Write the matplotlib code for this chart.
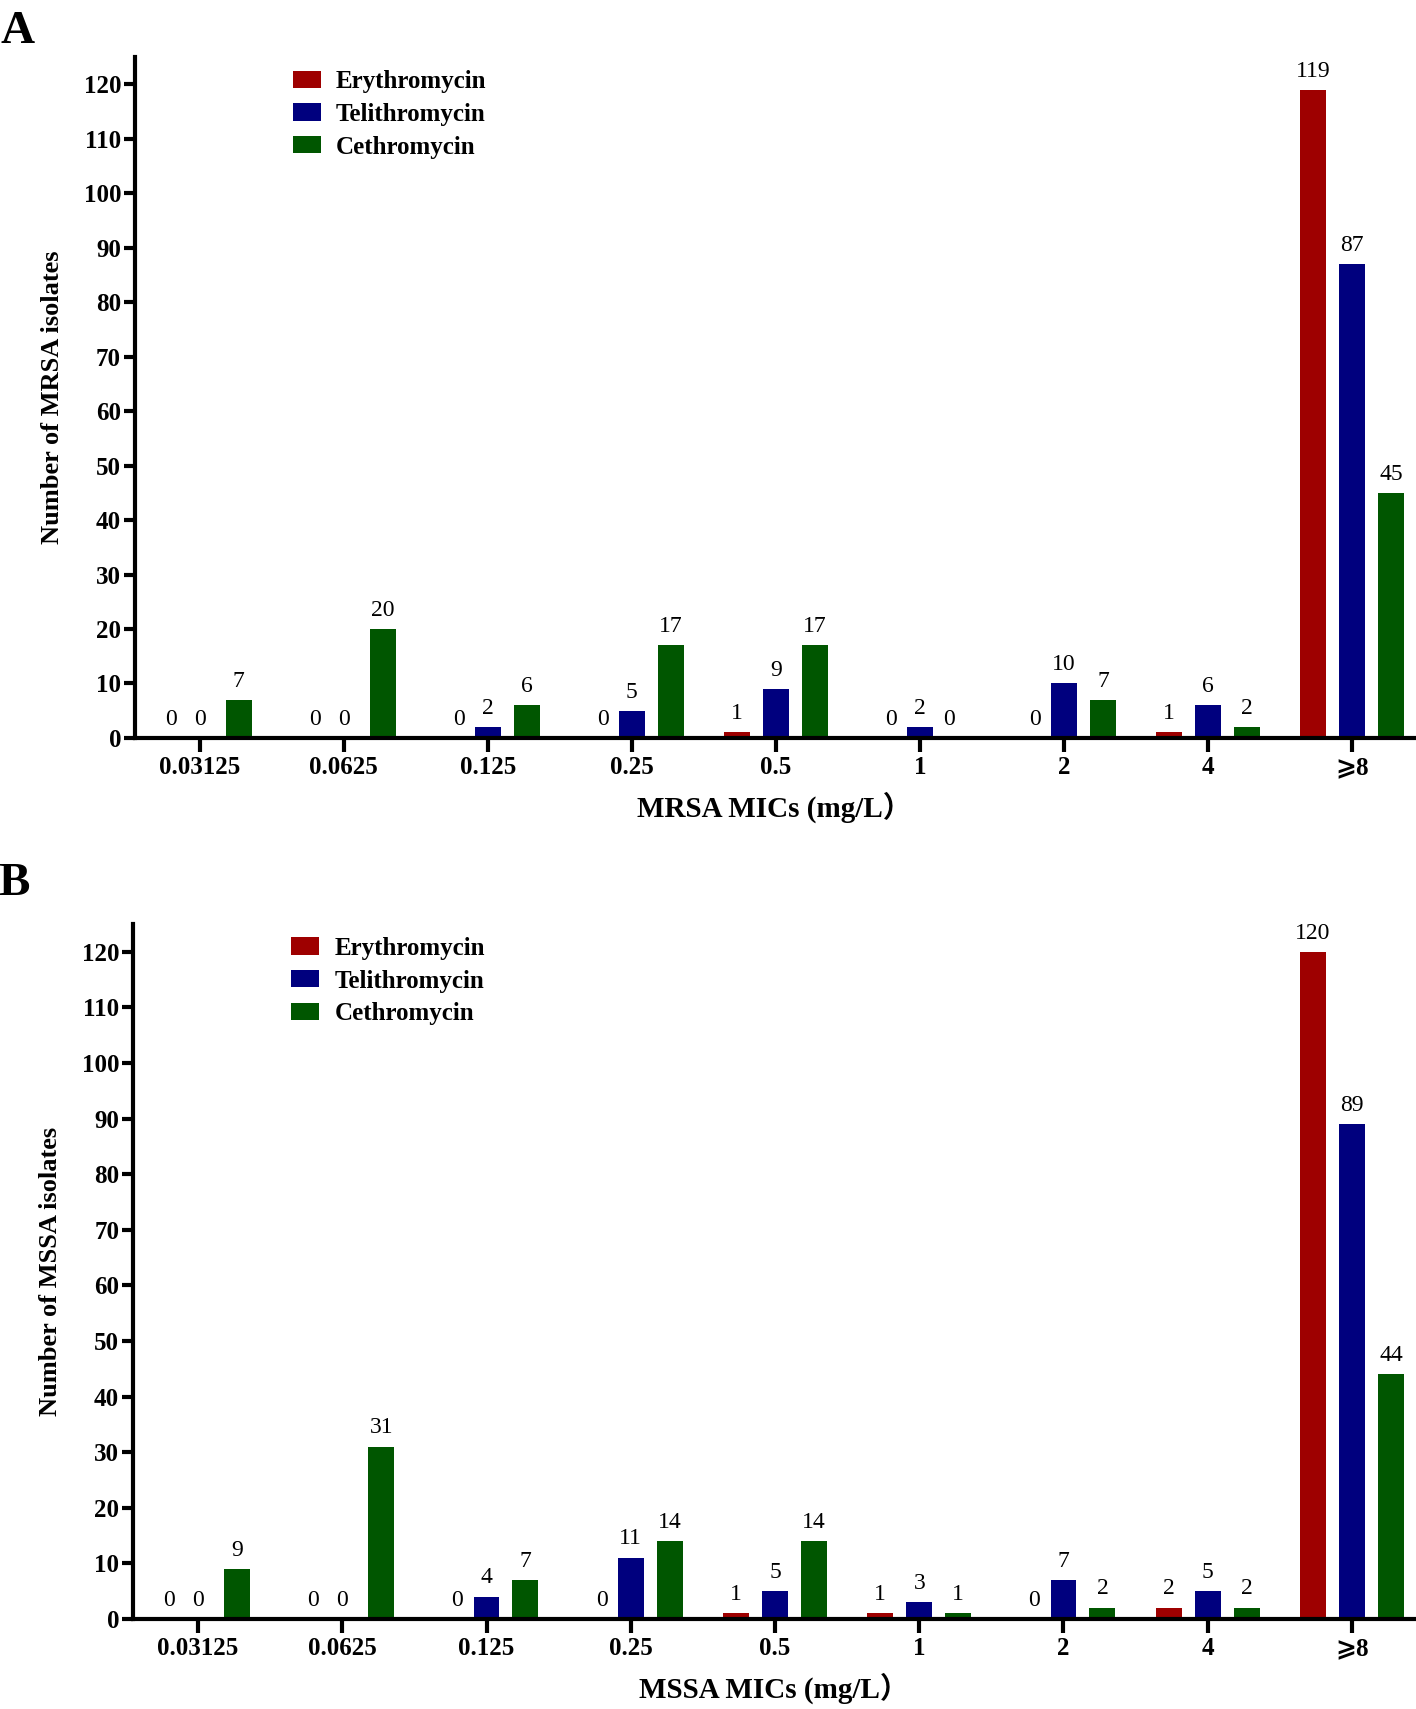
import matplotlib.pyplot as plt
import numpy as np

plt.rcParams['font.family'] = ['Liberation Serif', 'DejaVu Serif', 'Noto Sans CJK SC']

# MIC categories (mg/L)
mics = ["0.03125", "0.0625", "0.125", "0.25", "0.5", "1", "2", "4", "⩾8"]
drugs = ["Erythromycin", "Telithromycin", "Cethromycin"]
colors = ["#9E0000", "#00007E", "#005600"]

# Panel A: MRSA isolates
mrsa_ery = [0, 0, 0, 0, 1, 0, 0, 1, 119]
mrsa_tel = [0, 0, 2, 5, 9, 2, 10, 6, 87]
mrsa_cet = [7, 20, 6, 17, 17, 0, 7, 2, 45]

# Panel B: MSSA isolates
mssa_ery = [0, 0, 0, 0, 1, 1, 0, 2, 120]
mssa_tel = [0, 0, 4, 11, 5, 3, 7, 5, 89]
mssa_cet = [9, 31, 7, 14, 14, 1, 2, 2, 44]

fig = plt.figure(figsize=(14.16, 17.09), dpi=100)
ax_a = fig.add_axes([0.0953, 0.5682, 0.9033, 0.3984])
ax_b = fig.add_axes([0.0940, 0.0527, 0.9046, 0.4066])


def draw_panel(ax, series, ylab, xlab, letter, letter_y):
    x = np.arange(len(mics))
    w = 0.18
    offs = [-0.27, 0.0, 0.27]
    for vals, off, c, name in zip(series, offs, colors, drugs):
        bars = ax.bar(x + off, vals, w, color=c, label=name, zorder=2)
        for b, v in zip(bars, vals):
            # zero labels sit a little closer to the group centre
            xc = b.get_x() + b.get_width() / 2
            if v == 0:
                xc = xc - off * 0.25
            ax.text(xc, v + 1.5, str(v), ha='center', va='bottom', fontsize=17)
    ax.set_xlim(-0.45, 8.43)
    ax.set_ylim(0, 125)
    ax.set_yticks(range(0, 121, 10))
    ax.set_xticks(x)
    ax.set_xticklabels(mics, fontweight='bold', fontsize=18,
                       family=['Liberation Serif', 'DejaVu Sans'])
    for lab in ax.get_yticklabels():
        lab.set_fontweight('bold')
        lab.set_fontsize(18)
    ax.spines['top'].set_visible(False)
    ax.spines['right'].set_visible(False)
    ax.spines['left'].set_linewidth(3)
    ax.spines['bottom'].set_linewidth(3)
    ax.tick_params(axis='y', length=8, width=3, pad=2)
    ax.tick_params(axis='x', length=10, width=3, pad=3)
    ax.set_ylabel(ylab, fontsize=19, fontweight='bold', labelpad=14)
    ax.set_xlabel(xlab, fontsize=21, fontweight='bold', labelpad=9,
                  family=['Liberation Serif', 'Noto Sans CJK SC'])
    ax.legend(loc='upper left', bbox_to_anchor=(0.106, 1.014), frameon=False,
              prop={'weight': 'bold', 'size': 18}, handlelength=1.12,
              handleheight=0.68, labelspacing=0.39, handletextpad=0.6)
    ax.text(-0.105, letter_y, letter, transform=ax.transAxes, fontsize=34,
            fontweight='bold', ha='left', va='top')


draw_panel(ax_a, [mrsa_ery, mrsa_tel, mrsa_cet],
           "Number of MRSA isolates", "MRSA MICs (mg/L）", "A", 1.067)
draw_panel(ax_b, [mssa_ery, mssa_tel, mssa_cet],
           "Number of MSSA isolates", "MSSA MICs (mg/L）", "B", 1.088)

plt.savefig("out.png", dpi=100)
